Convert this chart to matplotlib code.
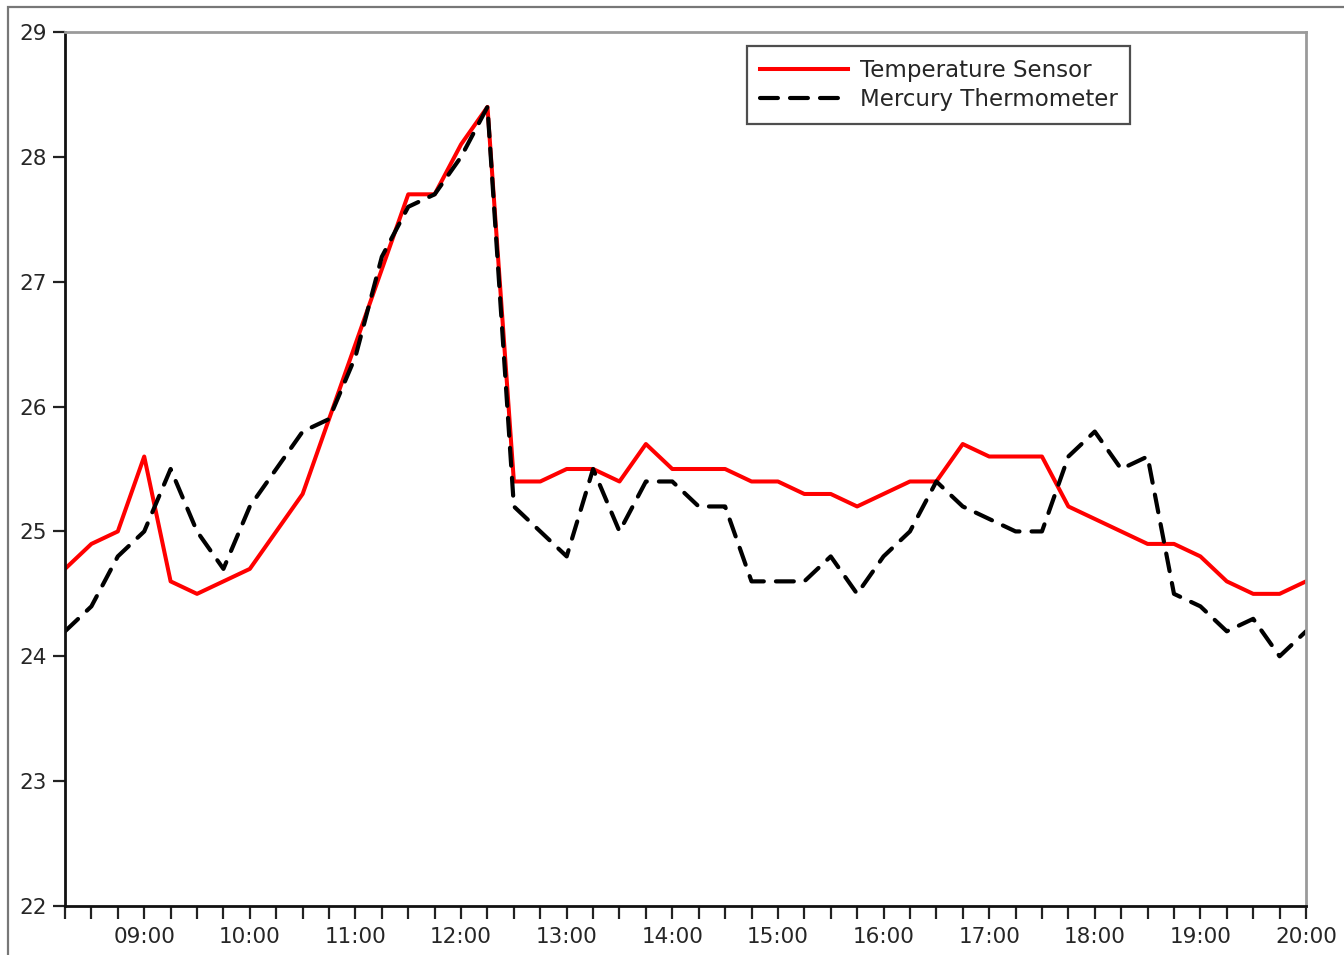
import datetime
import matplotlib
matplotlib.use("Agg")
import matplotlib.pyplot as plt
import matplotlib.dates as mdates
from matplotlib.patches import Rectangle

# ==========================================
# DATA
# ==========================================
TIMES = [
    "08:15", "08:30", "08:45", "09:00", "09:15", "09:30", "09:45", "10:00",
    "10:15", "10:30", "10:45", "11:00", "11:15", "11:30", "11:45", "12:00",
    "12:15", "12:30", "12:45", "13:00", "13:15", "13:30", "13:45", "14:00",
    "14:15", "14:30", "14:45", "15:00", "15:15", "15:30", "15:45", "16:00",
    "16:15", "16:30", "16:45", "17:00", "17:15", "17:30", "17:45", "18:00",
    "18:15", "18:30", "18:45", "19:00", "19:15", "19:30", "19:45", "20:00",
]

SENSOR = [
    24.7, 24.9, 25.0, 25.6, 24.6, 24.5, 24.6, 24.7,
    25.0, 25.3, 25.9, 26.5, 27.1, 27.7, 27.7, 28.1,
    28.4, 25.4, 25.4, 25.5, 25.5, 25.4, 25.7, 25.5,
    25.5, 25.5, 25.4, 25.4, 25.3, 25.3, 25.2, 25.3,
    25.4, 25.4, 25.7, 25.6, 25.6, 25.6, 25.2, 25.1,
    25.0, 24.9, 24.9, 24.8, 24.6, 24.5, 24.5, 24.6,
]

MERCURY = [
    24.2, 24.4, 24.8, 25.0, 25.5, 25.0, 24.7, 25.2,
    25.5, 25.8, 25.9, 26.4, 27.2, 27.6, 27.7, 28.0,
    28.4, 25.2, 25.0, 24.8, 25.5, 25.0, 25.4, 25.4,
    25.2, 25.2, 24.6, 24.6, 24.6, 24.8, 24.5, 24.8,
    25.0, 25.4, 25.2, 25.1, 25.0, 25.0, 25.6, 25.8,
    25.5, 25.6, 24.5, 24.4, 24.2, 24.3, 24.0, 24.2,
]

LABELS = ["Temperature Sensor", "Mercury Thermometer"]
Y_TICKS = [22, 23, 24, 25, 26, 27, 28, 29]

TEXT_COLOR = "#262626"
plt.rcParams['font.family'] = 'DejaVu Sans'


def main():
    day = datetime.date(2015, 6, 1)
    x = [datetime.datetime.combine(day, datetime.datetime.strptime(t, "%H:%M").time()) for t in TIMES]

    fig = plt.figure(figsize=(13.44, 9.55), dpi=100)
    ax = fig.add_axes([65 / 1344, 1 - 906 / 955, 1241 / 1344, 874 / 955])

    # outer frame of the original screenshot
    fig.add_artist(Rectangle((8 / 1344, -0.2), 1.5, 1.2 - 7 / 955, transform=fig.transFigure,
                             fill=False, edgecolor="#777777", linewidth=1.6))

    ax.plot(x, SENSOR, color="#ff0000", linewidth=2.9, label=LABELS[0])
    ax.plot(x, MERCURY, color="black", linewidth=3.0, linestyle=(0, (4.3, 2.9)),
            label=LABELS[1], dash_capstyle="round")

    ax.set_xlim(x[0], x[-1])
    ax.set_ylim(22, 29)
    ax.set_yticks(Y_TICKS)

    ax.xaxis.set_major_locator(mdates.HourLocator())
    ax.xaxis.set_major_formatter(mdates.DateFormatter("%H:%M"))
    ax.xaxis.set_minor_locator(mdates.MinuteLocator(byminute=[0, 15, 30, 45]))

    ax.tick_params(axis="x", which="both", direction="out", length=9, width=1.6,
                   colors="#222222", labelsize=15.5, labelcolor=TEXT_COLOR, pad=6,
                   top=False)
    ax.tick_params(axis="y", which="both", direction="out", length=9, width=1.6,
                   colors="#222222", labelsize=15.5, labelcolor=TEXT_COLOR, pad=4,
                   right=False)

    for side in ("left", "bottom"):
        ax.spines[side].set_color("#111111")
        ax.spines[side].set_linewidth(2.0)
    for side in ("top", "right"):
        ax.spines[side].set_color("#9a9a9a")
        ax.spines[side].set_linewidth(2.0)

    leg = ax.legend(loc="upper right", bbox_to_anchor=((1130 - 65) / 1241, (906 - 46) / 874),
                    fontsize=16.5, frameon=True, fancybox=False, shadow=False,
                    handlelength=3.85, handletextpad=0.5, labelspacing=0.3,
                    borderpad=0.55, borderaxespad=0)
    leg.get_frame().set_edgecolor("#222222")
    leg.get_frame().set_linewidth(1.6)
    for t in leg.get_texts():
        t.set_color(TEXT_COLOR)

    fig.savefig("out.png", dpi=100)
    plt.close(fig)


if __name__ == "__main__":
    main()
